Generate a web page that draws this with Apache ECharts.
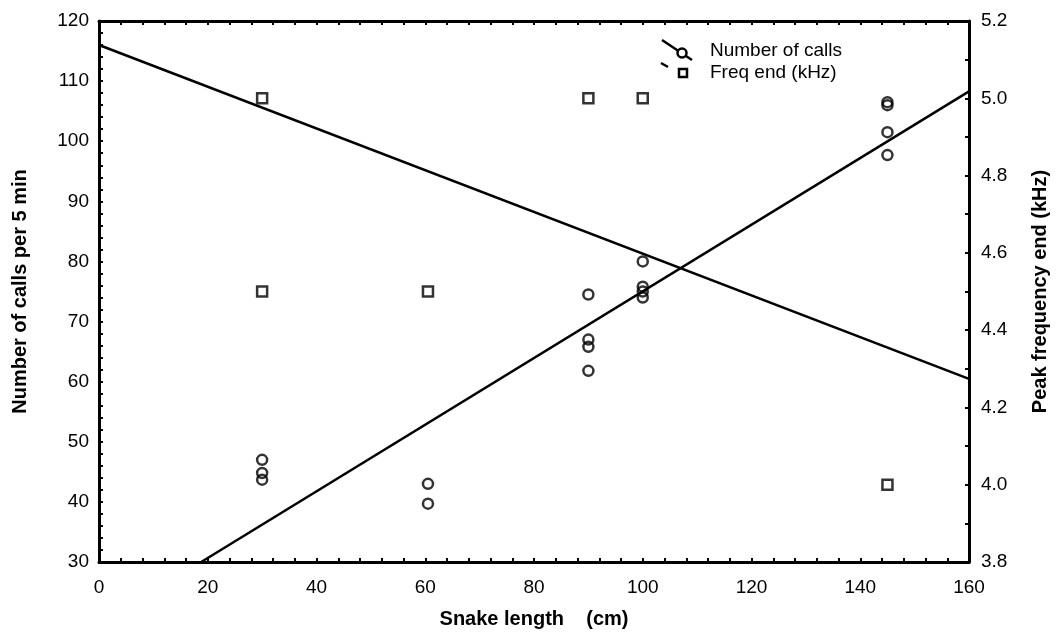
<!DOCTYPE html>
<html>
<head>
<meta charset="utf-8">
<script src="https://cdn.jsdelivr.net/npm/echarts@6/dist/echarts.min.js"></script>
<style>
  html, body { margin: 0; padding: 0; background: #fff; }
  #chart { width: 1058px; height: 639px; }
</style>
</head>
<body>
<div id="chart"></div>
<script>
// Snake length (cm) against number of calls and peak end frequency
const callLength = [30, 30, 30, 60.5, 60.5, 90, 90, 90, 90, 100, 100, 100, 100, 145, 145, 145, 145];
const callCount = [47, 44.8, 43.7, 43, 39.7, 74.5, 67, 65.8, 61.8, 80, 75.8, 75, 74, 106.5, 106, 101.5, 97.7];

const freqLength = [30, 30, 60.5, 90, 100, 145];
const freqEnd = [5.0, 4.5, 4.5, 5.0, 5.0, 4.0];

// Fitted regression lines (end points)
const callFitX = [18.8, 160];
const callFitY = [30, 108.3];
const freqFitX = [0, 160];
const freqFitY = [5.138, 4.274];

const xTicks = { min: 0, max: 160, interval: 20 };
const leftTicks = { min: 30, max: 120, interval: 10 };
const rightTicks = { min: 3.8, max: 5.2, interval: 0.2 };

const FONT = 'Liberation Sans, Arial, sans-serif';
const zip = (a, b) => a.map((v, i) => [v, b[i]]);

const axisLine = { show: true, onZero: false, lineStyle: { color: '#000', width: 3 } };
const tick = { show: true, inside: true, length: 4, lineStyle: { color: '#000', width: 2 } };
const minor = (n) => ({ show: true, splitNumber: n, length: 4, lineStyle: { color: '#000', width: 2 } });
const label = { color: '#000', fontSize: 19, fontFamily: FONT };
const nameStyle = { color: '#000', fontSize: 20, fontWeight: 'bold', fontFamily: FONT };

const chart = echarts.init(document.getElementById('chart'), null, { renderer: 'canvas' });

chart.setOption({
  backgroundColor: '#fff',
  animation: false,
  grid: { left: 99, right: 87, top: 21, bottom: 77, containLabel: false },
  xAxis: [
    {
      type: 'value', position: 'bottom', ...xTicks,
      axisLine, axisTick: tick, minorTick: minor(5),
      splitLine: { show: false },
      axisLabel: { ...label, margin: 16 },
      name: 'Snake length    (cm)', nameLocation: 'middle', nameGap: 47,
      nameTextStyle: nameStyle
    },
    {
      type: 'value', position: 'top', ...xTicks,
      axisLine, axisTick: tick, minorTick: minor(5),
      splitLine: { show: false },
      axisLabel: { show: false }
    }
  ],
  yAxis: [
    {
      type: 'value', position: 'left', ...leftTicks,
      axisLine, axisTick: tick, minorTick: minor(5),
      splitLine: { show: false },
      axisLabel: { ...label, margin: 10 },
      name: 'Number of calls per 5 min', nameLocation: 'middle', nameGap: 69,
      nameTextStyle: nameStyle
    },
    {
      type: 'value', position: 'right', ...rightTicks,
      axisLine, axisTick: tick, minorTick: minor(2),
      splitLine: { show: false },
      axisLabel: { ...label, margin: 12, formatter: (v) => v.toFixed(1) },
      name: 'Peak frequency end (kHz)', nameLocation: 'middle', nameGap: 61,
      nameRotate: 90,
      nameTextStyle: nameStyle
    }
  ],
  series: [
    {
      name: 'Number of calls', type: 'scatter', xAxisIndex: 0, yAxisIndex: 0,
      data: zip(callLength, callCount),
      symbol: 'circle', symbolSize: 10,
      itemStyle: { color: 'rgba(0,0,0,0)', borderColor: '#000', borderWidth: 2.5 },
      z: 3
    },
    {
      name: 'Freq end (kHz)', type: 'scatter', xAxisIndex: 0, yAxisIndex: 1,
      data: zip(freqLength, freqEnd),
      symbol: 'rect', symbolSize: 10,
      itemStyle: { color: 'rgba(0,0,0,0)', borderColor: '#000', borderWidth: 2.5 },
      z: 3
    },
    {
      type: 'line', xAxisIndex: 0, yAxisIndex: 0,
      data: zip(callFitX, callFitY),
      symbol: 'none', clip: true,
      lineStyle: { color: '#000', width: 2.5 }
    },
    {
      type: 'line', xAxisIndex: 0, yAxisIndex: 1,
      data: zip(freqFitX, freqFitY),
      symbol: 'none', clip: true,
      lineStyle: { color: '#000', width: 2.5 }
    }
  ],
  graphic: [
    // legend: number of calls
    { type: 'line', shape: { x1: 662, y1: 40, x2: 692, y2: 60 }, style: { stroke: '#000', lineWidth: 2.5 } },
    { type: 'circle', shape: { cx: 682, cy: 53, r: 4.5 }, style: { fill: '#fff', stroke: '#000', lineWidth: 2.5 } },
    { type: 'text', left: 710, top: 41, style: { text: 'Number of calls', fill: '#000', fontSize: 19, fontFamily: FONT } },
    // legend: freq end
    { type: 'line', shape: { x1: 661, y1: 63, x2: 668, y2: 67 }, style: { stroke: '#000', lineWidth: 2.5 } },
    { type: 'rect', shape: { x: 679, y: 69, width: 8, height: 8 }, style: { fill: '#fff', stroke: '#000', lineWidth: 2.5 } },
    { type: 'text', left: 710, top: 63, style: { text: 'Freq end (kHz)', fill: '#000', fontSize: 19, fontFamily: FONT } }
  ]
});
</script>
</body>
</html>
